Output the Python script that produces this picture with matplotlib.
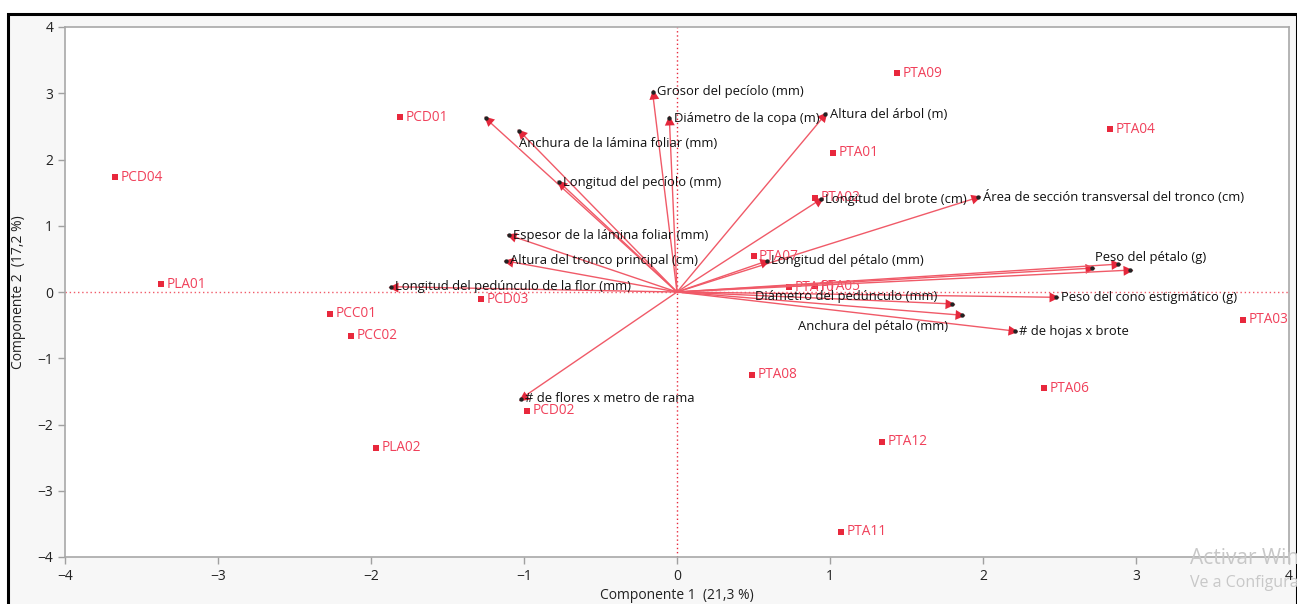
import numpy as np
import matplotlib.pyplot as plt
from matplotlib.patches import Rectangle
from matplotlib.markers import MarkerStyle
from matplotlib.path import Path
from matplotlib.transforms import Affine2D

plt.rcParams['font.family'] = ['Open Sans', 'DejaVu Sans']

# Scores of each sample on the first two components
sample_names = ['PCD04', 'PCD01', 'PLA01', 'PCC01', 'PCC02', 'PLA02', 'PCD03', 'PCD02',
                'PTA09', 'PTA04', 'PTA01', 'PTA02', 'PTA07', 'PTA05', 'PTA10', 'PTA03',
                'PTA06', 'PTA08', 'PTA12', 'PTA11']
sample_pc1 = [-3.67, -1.81, -3.37, -2.27, -2.13, -1.97, -1.28, -0.98,
              1.44, 2.83, 1.02, 0.90, 0.50, 0.90, 0.73, 3.70,
              2.40, 0.49, 1.34, 1.07]
sample_pc2 = [1.73, 2.64, 0.12, -0.33, -0.66, -2.35, -0.11, -1.79,
              3.30, 2.46, 2.10, 1.42, 0.54, 0.09, 0.07, -0.42,
              -1.45, -1.25, -2.26, -3.62]

# Variable loadings (scaled) drawn as arrows from the origin
var_names = ['Grosor del pecíolo (mm)', 'Diámetro de la copa (m)', 'Altura del árbol (m)',
             '', 'Anchura de la lámina foliar (mm)', 'Longitud del pecíolo (mm)',
             'Espesor de la lámina foliar (mm)', 'Altura del tronco principal (cm)',
             'Longitud del pedúnculo de la flor (mm)', '# de flores x metro de rama',
             'Longitud del brote (cm)', 'Área de sección transversal del tronco (cm)',
             'Longitud del pétalo (mm)', '', 'Peso del pétalo (g)', '',
             'Diámetro del pedúnculo (mm)', 'Anchura del pétalo (mm)',
             'Peso del cono estigmático (g)', '# de hojas x brote']
var_pc1 = [-0.16, -0.05, 0.97, -1.25, -1.03, -0.77, -1.10, -1.12, -1.87, -1.02,
           0.94, 1.97, 0.59, 2.71, 2.88, 2.96, 1.80, 1.86, 2.48, 2.21]
var_pc2 = [3.02, 2.62, 2.68, 2.62, 2.43, 1.66, 0.86, 0.47, 0.08, -1.61,
           1.40, 1.43, 0.47, 0.36, 0.42, 0.33, -0.18, -0.35, -0.08, -0.59]
# label offsets in points (dx, dy)
var_label_offset = {'Anchura de la lámina foliar (mm)': (0, -9),
                    'Diámetro del pedúnculo (mm)': (-142, 5),
                    'Anchura del pétalo (mm)': (-118, -8),
                    'Peso del pétalo (g)': (-16, 5)}

red_line = '#f05a68'
red_head = '#e4283c'
red_mark = '#e8283c'
red_text = '#f0405a'

fig = plt.figure(figsize=(13.02, 6.04), dpi=100, facecolor='white')
fig.patches.append(Rectangle((8 / 1302, -0.02), 1289 / 1302, (604 - 14) / 604 + 0.02,
                             transform=fig.transFigure, facecolor='#f7f7f7',
                             edgecolor='black', linewidth=2.2, zorder=-10))

ax = fig.add_axes([65 / 1302, 47 / 604, 1224 / 1302, 530 / 604])
ax.set_facecolor('white')
ax.set_xlim(-4, 4)
ax.set_ylim(-4, 4)

ax.axhline(0, color=red_line, linestyle=(0, (1, 2)), linewidth=1, zorder=1)
ax.axvline(0, color=red_mark, linestyle=(0, (1, 2)), linewidth=1, zorder=1)

# sample points
ax.scatter(sample_pc1, sample_pc2, marker='s', s=18, color=red_mark, zorder=3, linewidths=0)
for name, x, y in zip(sample_names, sample_pc1, sample_pc2):
    ax.annotate(name, (x, y), xytext=(4, 0), textcoords='offset points',
                va='center', ha='left', fontsize=9.8, color=red_text, zorder=3)

# arrow head pointing along +x, its tip slightly past the end point
head_path = Path([(0.3, 0), (-0.7, 0.5), (-0.7, -0.5), (0.3, 0)],
                 [Path.MOVETO, Path.LINETO, Path.LINETO, Path.CLOSEPOLY])
origin_px = ax.transData.transform((0, 0))

# loading arrows
for name, x, y in zip(var_names, var_pc1, var_pc2):
    ax.plot([0, x], [0, y], color=red_line, lw=1.0, zorder=4, solid_capstyle='butt')
    tip_px = ax.transData.transform((x, y))
    angle = np.degrees(np.arctan2(tip_px[1] - origin_px[1], tip_px[0] - origin_px[0]))
    head = MarkerStyle(head_path, transform=Affine2D().rotate_deg(angle))
    ax.plot([x], [y], marker=head, markersize=10, color=red_head,
            markeredgewidth=0, linestyle='none', zorder=4)
    ax.scatter([x], [y], s=10, color='#222222', zorder=5, linewidths=0)
    if name:
        dx, dy = var_label_offset.get(name, (3, 0))
        ax.annotate(name, (x, y), xytext=(dx, dy), textcoords='offset points',
                    va='center', ha='left', fontsize=9.4, color='#111111', zorder=6)

ax.set_xticks([-4, -3, -2, -1, 0, 1, 2, 3, 4])
ax.set_yticks([-4, -3, -2, -1, 0, 1, 2, 3, 4])
ax.tick_params(direction='out', length=5, width=1, color='#a0a0a0',
               labelsize=10, labelcolor='#222222')
for spine in ax.spines.values():
    spine.set_color('#a8a8a8')
    spine.set_linewidth(1.2)

ax.set_xlabel('Componente 1  (21,3 %)', fontsize=10, color='#222222', labelpad=3)
ax.set_ylabel('Componente 2  (17,2 %)', fontsize=10, color='#222222', labelpad=8)

fig.text(1190 / 1302, 1 - 558 / 604, 'Activar Windows', fontsize=15, color='#c8c8c8',
         va='center', ha='left')
fig.text(1190 / 1302, 1 - 583 / 604, 'Ve a Configuración', fontsize=11.5, color='#c8c8c8',
         va='center', ha='left')
fig.patches.append(Rectangle((1297 / 1302, 0), 5 / 1302, 1, transform=fig.transFigure,
                             facecolor='white', edgecolor='none', zorder=10))

fig.savefig('out.png', dpi=100)
